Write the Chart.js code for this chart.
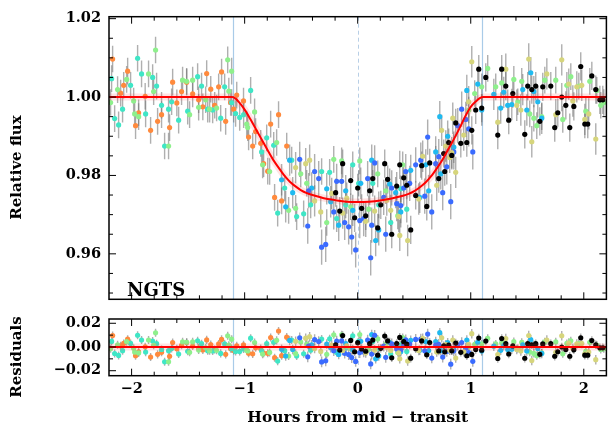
<!DOCTYPE html>
<html><head><meta charset="utf-8">
<script src="https://cdn.jsdelivr.net/npm/chart.js@4.4.1/dist/chart.umd.min.js"></script>
<style>
html,body{margin:0;padding:0;background:#fff;}
#wrap{position:relative;width:609px;height:432px;overflow:hidden;background:#fff;}
#topBox{position:absolute;left:0;top:0;width:609px;height:316px;}
#botBox{position:absolute;left:0;top:300px;width:609px;height:132px;}
</style></head><body>
<div id="wrap">
<div id="topBox"><canvas id="topChart" width="609" height="316"></canvas></div>
<div id="botBox"><canvas id="botChart" width="609" height="132"></canvas></div>
</div>
<script>
// ---------------- DATA (hours from mid-transit, relative flux, residuals) ----------------
const orangeHours = [-2.168,-2.097,-2.070,-2.035,-1.965,-1.938,-1.880,-1.832,-1.770,-1.735,-1.664,-1.637,-1.600,-1.558,-1.513,-1.460,-1.407,-1.370,-1.336,-1.300,-1.265,-1.230,-1.204,-1.168,-1.124,-1.097,-1.070,-1.010,-0.965,-0.929,-0.903,-0.858,-0.832,-0.796,-0.770,-0.735,-0.700,-0.673,-0.628];
const orangeFlux = [1.0097,1.0010,1.0030,1.0066,0.9927,0.9960,1.0002,0.9915,0.9938,0.9955,0.9922,1.0038,0.9985,1.0014,1.0038,1.0008,0.9993,0.9975,1.0060,1.0020,0.9979,1.0026,1.0064,0.9938,0.9986,0.9969,1.0005,0.9990,0.9898,0.9875,0.9912,0.9882,0.9830,0.9811,0.9931,0.9744,0.9955,0.9735,0.9875];
const orangeResid = [0.0097,0.0010,0.0030,0.0066,-0.0073,-0.0040,0.0002,-0.0085,-0.0062,-0.0045,-0.0078,0.0038,-0.0015,0.0014,0.0038,0.0008,-0.0007,-0.0025,0.0060,0.0020,-0.0021,0.0026,0.0064,-0.0062,-0.0014,-0.0030,0.0010,0.0018,-0.0053,-0.0058,-0.0007,-0.0014,-0.0052,-0.0053,0.0080,-0.0090,0.0135,-0.0073,0.0083];
const orangeErr = 0.0034;

const turquoiseHours = [-2.177,-2.150,-2.115,-2.080,-2.009,-1.947,-1.912,-1.876,-1.814,-1.779,-1.735,-1.708,-1.673,-1.646,-1.584,-1.504,-1.416,-1.381,-1.327,-1.283,-1.212,-1.177,-1.115,-1.080,-1.044,-1.009,-0.947,-0.850,-0.805,-0.743,-0.708,-0.646,-0.584,-0.540,-0.478,-0.416,-0.319,-0.248,-0.186,-0.106,-0.044,0.009,0.133,0.186,0.292,0.381,0.434];
const turquoiseFlux = [1.0047,0.9945,0.9929,0.9969,1.0030,1.0099,1.0059,0.9957,1.0050,1.0028,0.9979,0.9875,0.9969,0.9988,0.9941,0.9964,1.0052,1.0028,0.9969,0.9967,0.9946,1.0026,0.9986,0.9958,0.9948,0.9955,1.0017,0.9860,0.9896,0.9877,0.9704,0.9768,0.9839,0.9695,0.9702,0.9725,0.9810,0.9808,0.9690,0.9725,0.9827,0.9780,0.9780,0.9725,0.9680,0.9766,0.9714];
const turquoiseResid = [0.0047,-0.0055,-0.0071,-0.0031,0.0030,0.0099,0.0059,-0.0043,0.0050,0.0028,-0.0021,-0.0125,-0.0031,-0.0012,-0.0059,-0.0036,0.0052,0.0028,-0.0031,-0.0033,-0.0054,0.0026,-0.0014,-0.0038,-0.0037,-0.0016,0.0074,-0.0032,0.0028,0.0039,-0.0119,-0.0031,0.0059,-0.0075,-0.0057,-0.0027,0.0067,0.0069,-0.0046,-0.0008,0.0095,0.0048,0.0046,-0.0011,-0.0060,0.0019,-0.0037];
const turquoiseErr = 0.0034;

const greenHours = [-2.186,-2.124,-2.044,-1.982,-1.973,-1.938,-1.850,-1.805,-1.788,-1.673,-1.549,-1.513,-1.487,-1.460,-1.407,-1.345,-1.310,-1.248,-1.150,-1.140,-1.115,-0.982,-0.973,-0.912,-0.841,-0.779,-0.717,-0.611,-0.549,-0.504,-0.451,-0.274,-0.212,-0.142,-0.062,0.018,0.097,0.177,0.248,0.354,0.398,0.982,1.035,1.097,1.150,1.221,1.274,1.381,1.416,1.451,1.522,1.558,1.584,1.628,1.655,1.752,1.814,1.850,1.885,1.956,2.018,2.053,2.115,2.150,2.177];
const greenFlux = [0.9986,1.0019,1.0045,0.9990,0.9957,0.9950,1.0059,1.0014,1.0120,0.9875,1.0043,1.0040,0.9955,1.0043,0.9974,0.9993,0.9969,0.9972,1.0095,1.0015,1.0066,0.9931,0.9922,0.9962,0.9827,0.9810,0.9884,0.9711,0.9716,0.9804,0.9780,0.9680,0.9841,0.9837,0.9720,0.9837,0.9714,0.9804,0.9761,0.9697,0.9827,0.9967,1.0009,1.0026,1.0073,1.0026,1.0036,1.0045,0.9988,1.0040,0.9957,0.9946,0.9927,0.9950,1.0043,1.0043,0.9943,1.0030,1.0052,1.0028,0.9964,1.0040,1.0017,0.9979,0.9986];
const greenResid = [-0.0014,0.0019,0.0045,-0.0010,-0.0043,-0.0050,0.0059,0.0014,0.0120,-0.0125,0.0043,0.0040,-0.0045,0.0043,-0.0026,-0.0007,-0.0031,-0.0028,0.0095,0.0015,0.0066,-0.0028,-0.0033,0.0038,-0.0060,-0.0046,0.0056,-0.0076,-0.0056,0.0042,0.0025,-0.0061,0.0103,0.0103,-0.0012,0.0105,-0.0019,0.0068,0.0023,-0.0047,0.0079,0.0001,0.0023,0.0026,0.0073,0.0026,0.0036,0.0045,-0.0012,0.0040,-0.0043,-0.0054,-0.0073,-0.0050,0.0043,0.0043,-0.0057,0.0030,0.0052,0.0028,-0.0036,0.0040,0.0017,-0.0021,-0.0014];
const greenErr = 0.0034;

const cyanHours = [-0.673,-0.637,-0.602,-0.575,-0.407,-0.274,-0.239,-0.168,-0.106,-0.044,0.027,0.124,0.159,0.186,0.283,0.336,0.381,0.469,0.549,0.602,0.628,0.690,0.726,0.735,0.796,0.850,0.965,1.062,1.097,1.204,1.265,1.292,1.327,1.363,1.460,1.496,1.531,1.558,1.593,1.628];
const cyanFlux = [0.9789,0.9720,0.9839,0.9756,0.9768,0.9766,0.9733,0.9673,0.9761,0.9711,0.9780,0.9839,0.9634,0.9661,0.9778,0.9756,0.9707,0.9813,0.9744,0.9827,0.9761,0.9860,0.9950,0.9804,0.9900,0.9872,1.0017,1.0033,0.9967,1.0007,0.9972,1.0012,0.9979,0.9981,1.0019,0.9967,1.0062,1.0014,0.9988,0.9946];
const cyanResid = [-0.0019,-0.0076,0.0055,-0.0021,0.0018,0.0025,-0.0006,-0.0063,0.0028,-0.0021,0.0048,0.0105,-0.0100,-0.0075,0.0038,0.0012,-0.0040,0.0057,-0.0027,0.0045,-0.0030,0.0046,0.0121,-0.0030,0.0036,-0.0020,0.0059,0.0040,-0.0033,0.0007,-0.0028,0.0012,-0.0021,-0.0019,0.0019,-0.0033,0.0062,0.0014,-0.0012,-0.0054];
const cyanErr = 0.0040;

const blueHours = [-0.513,-0.442,-0.434,-0.381,-0.345,-0.319,-0.283,-0.212,-0.186,-0.142,-0.115,-0.080,-0.053,-0.018,0.018,0.053,0.088,0.115,0.124,0.150,0.230,0.248,0.301,0.345,0.381,0.407,0.425,0.460,0.513,0.558,0.593,0.619,0.655,0.690,0.717,0.752,0.788,0.823,0.850,0.885,0.920,0.956,0.982,1.018];
const blueFlux = [0.9841,0.9671,0.9761,0.9810,0.9792,0.9617,0.9624,0.9707,0.9785,0.9785,0.9680,0.9669,0.9643,0.9610,0.9685,0.9690,0.9792,0.9590,0.9673,0.9832,0.9744,0.9650,0.9768,0.9728,0.9723,0.9768,0.9810,0.9780,0.9827,0.9839,0.9747,0.9898,0.9707,0.9830,0.9848,0.9756,0.9822,0.9733,0.9860,0.9927,0.9969,0.9943,0.9919,0.9860];
const blueResid = [0.0077,-0.0083,0.0008,0.0062,0.0046,-0.0126,-0.0117,-0.0031,0.0049,0.0051,-0.0053,-0.0064,-0.0089,-0.0122,-0.0047,-0.0042,0.0059,-0.0143,-0.0060,0.0098,0.0007,-0.0087,0.0027,-0.0016,-0.0024,0.0019,0.0060,0.0025,0.0064,0.0067,-0.0032,0.0109,-0.0093,0.0016,0.0023,-0.0085,-0.0038,-0.0145,-0.0032,0.0015,0.0037,-0.0011,-0.0047,-0.0121];
const blueErr = 0.0045;

const khakiHours = [-0.549,-0.460,-0.425,-0.381,-0.327,-0.230,-0.133,-0.097,0.071,0.150,0.257,0.292,0.363,0.372,0.442,0.540,0.575,0.699,0.743,0.779,0.814,0.832,0.841,0.867,0.938,0.982,1.009,1.239,1.310,1.407,1.443,1.513,1.540,1.673,1.752,1.805,1.867,1.903,1.938,1.982,2.009,2.044,2.106];
const khakiFlux = [0.9820,0.9830,0.9839,0.9735,0.9707,0.9754,0.9704,0.9742,0.9683,0.9709,0.9737,0.9711,0.9695,0.9647,0.9634,0.9740,0.9849,0.9775,0.9915,0.9875,0.9846,0.9858,0.9946,0.9808,0.9903,0.9988,1.0090,0.9936,1.0071,0.9979,0.9967,1.0097,0.9886,1.0059,0.9955,1.0095,1.0033,0.9990,1.0026,1.0030,0.9943,0.9957,0.9893];
const khakiResid = [0.0048,0.0074,0.0087,-0.0013,-0.0037,0.0016,-0.0030,0.0009,-0.0050,-0.0026,-0.0002,-0.0029,-0.0050,-0.0099,-0.0118,-0.0029,0.0073,-0.0043,0.0078,0.0020,-0.0027,-0.0025,0.0059,-0.0093,-0.0040,0.0022,0.0112,-0.0064,0.0071,-0.0021,-0.0033,0.0097,-0.0114,0.0059,-0.0045,0.0095,0.0033,-0.0010,0.0026,0.0030,-0.0057,-0.0043,-0.0107];
const khakiErr = 0.0040;

const blackHours = [-0.195,-0.159,-0.133,-0.062,-0.027,0.000,0.035,0.071,0.106,0.133,0.177,0.204,0.239,0.265,0.301,0.345,0.372,0.407,0.434,0.469,0.513,0.566,0.611,0.637,0.717,0.761,0.770,0.805,0.832,0.867,0.912,0.965,1.009,1.044,1.071,1.097,1.133,1.239,1.274,1.310,1.336,1.372,1.478,1.504,1.540,1.575,1.611,1.637,1.708,1.743,1.770,1.805,1.841,1.876,1.912,1.973,2.009,2.035,2.071,2.106,2.142,2.168];
const blackFlux = [0.9756,0.9709,0.9830,0.9787,0.9692,0.9768,0.9716,0.9697,0.9761,0.9792,0.9666,0.9725,0.9830,0.9790,0.9650,0.9773,0.9827,0.9794,0.9775,0.9661,0.9749,0.9825,0.9721,0.9832,0.9792,0.9856,0.9810,0.9884,0.9851,0.9934,0.9882,0.9884,0.9915,0.9967,1.0071,0.9972,1.0050,0.9903,1.0071,1.0028,0.9941,1.0009,0.9905,1.0028,1.0019,1.0028,0.9938,1.0026,1.0028,0.9922,0.9960,1.0000,0.9979,0.9922,0.9976,1.0078,0.9931,0.9931,1.0054,1.0019,0.9993,0.9993];
const blackResid = [0.0019,-0.0026,0.0096,0.0055,-0.0040,0.0036,-0.0016,-0.0036,0.0028,0.0058,-0.0069,-0.0011,0.0092,0.0051,-0.0091,0.0029,0.0081,0.0045,0.0024,-0.0094,-0.0014,0.0051,-0.0066,0.0038,-0.0033,0.0010,-0.0041,0.0015,-0.0032,0.0033,-0.0045,-0.0074,-0.0063,-0.0021,0.0075,-0.0027,0.0050,-0.0097,0.0071,0.0028,-0.0059,0.0009,-0.0095,0.0028,0.0019,0.0028,-0.0062,0.0026,0.0028,-0.0078,-0.0040,0.0000,-0.0021,-0.0078,-0.0024,0.0078,-0.0069,-0.0069,0.0054,0.0019,-0.0007,-0.0007];
const blackErr = 0.0036;

// transit model
const modelHours = [-2.2,-1.11,-1.08,-1.05,-1.00,-0.95,-0.90,-0.85,-0.80,-0.75,-0.70,-0.65,-0.60,-0.55,-0.50,-0.45,-0.40,-0.30,-0.20,-0.10,0.00,0.10,0.20,0.30,0.40,0.45,0.50,0.55,0.60,0.65,0.70,0.75,0.80,0.85,0.90,0.95,1.00,1.05,1.08,1.11,2.2];
const modelFlux = [1.0,1.0,0.9996,0.9987,0.9968,0.9944,0.9918,0.9892,0.9866,0.9841,0.9820,0.9800,0.9784,0.9772,0.9762,0.9755,0.9750,0.9742,0.9737,0.9733,0.9732,0.9733,0.9736,0.9741,0.9748,0.9753,0.9760,0.9770,0.9782,0.9798,0.9818,0.9840,0.9866,0.9892,0.9920,0.9950,0.9975,0.9990,0.9997,1.0,1.0];
const residModelHours = [-2.2, 2.2];
const residModelValues = [0, 0];

// reference markers (transit contact times and mid-transit)
const contactHours = [-1.1, 1.1];
const midTransitHours = [0];

// axes and ticks
const hoursRange = [-2.2, 2.2];
const fluxRange = [0.9484, 1.0205];
const residRange = [-0.0242, 0.0236];
const xMajorTicks = [-2, -1, 0, 1, 2];
const xTickLabels = ['\u22122', '\u22121', '0', '1', '2'];
const xMinorTicks = [-1.8,-1.6,-1.4,-1.2,-0.8,-0.6,-0.4,-0.2,0.2,0.4,0.6,0.8,1.2,1.4,1.6,1.8];
const fluxMajorTicks = [0.96, 0.98, 1.00, 1.02];
const fluxTickLabels = ['0.96', '0.98', '1.00', '1.02'];
const fluxMinorTicks = [0.95,0.955,0.965,0.97,0.975,0.985,0.99,0.995,1.005,1.01,1.015];
const residMajorTicks = [-0.02, 0, 0.02];
const residTickLabels = ['\u22120.02', '0.00', '0.02'];
const residMinorTicks = [-0.01, 0.01];

// ---------------- STYLE ----------------
const FONT = 'DejaVu Serif';
const seriesDefs = [
  {hours: orangeHours,    flux: orangeFlux,    resid: orangeResid,    err: orangeErr,    color: '#ff8a3d', order: 8},
  {hours: turquoiseHours, flux: turquoiseFlux, resid: turquoiseResid, err: turquoiseErr, color: '#3fe6c6', order: 7},
  {hours: greenHours,     flux: greenFlux,     resid: greenResid,     err: greenErr,     color: '#8ef08c', order: 6},
  {hours: cyanHours,      flux: cyanFlux,      resid: cyanResid,      err: cyanErr,      color: '#1fbaf0', order: 5},
  {hours: blueHours,      flux: blueFlux,      resid: blueResid,      err: blueErr,      color: '#3a6bff', order: 4},
  {hours: khakiHours,     flux: khakiFlux,     resid: khakiResid,     err: khakiErr,     color: '#d6d57c', order: 3},
  {hours: blackHours,     flux: blackFlux,     resid: blackResid,     err: blackErr,     color: '#000000', order: 2}
];

function pts(xs, ys) { return xs.map((x, i) => ({x: x, y: ys[i]})); }

function buildDatasets(which, mx, my) {
  const ds = seriesDefs.map(s => ({
    data: pts(s.hours, which === 'flux' ? s.flux : s.resid),
    errs: s.err,
    backgroundColor: s.color,
    borderWidth: 0,
    pointRadius: 2.6,
    pointHoverRadius: 2.6,
    order: s.order
  }));
  ds.push({data: pts(mx, my), showLine: true, borderColor: 'rgba(255,80,80,0.16)', borderWidth: 7, pointRadius: 0, cubicInterpolationMode: 'monotone', order: 1});
  ds.push({data: pts(mx, my), showLine: true, borderColor: '#ff0000', borderWidth: 2, pointRadius: 0, cubicInterpolationMode: 'monotone', order: 0});
  return ds;
}

const markerPlugin = {
  id: 'markers',
  beforeDatasetsDraw(chart) {
    const {ctx, chartArea: a, scales: {x, y}} = chart;
    ctx.save();
    ctx.beginPath(); ctx.rect(a.left, a.top, a.right - a.left, a.bottom - a.top); ctx.clip();
    ctx.strokeStyle = '#a9cbe8'; ctx.lineWidth = 1.2;
    contactHours.forEach(h => { const px = Math.round(x.getPixelForValue(h)) + 0.5; ctx.beginPath(); ctx.moveTo(px, a.top); ctx.lineTo(px, a.bottom); ctx.stroke(); });
    ctx.strokeStyle = '#b8cfe6'; ctx.setLineDash([4, 3]); ctx.lineWidth = 1;
    midTransitHours.forEach(h => { const px = Math.round(x.getPixelForValue(h)) + 0.5; ctx.beginPath(); ctx.moveTo(px, a.top); ctx.lineTo(px, a.bottom); ctx.stroke(); });
    ctx.setLineDash([]);
    // error bars
    ctx.strokeStyle = 'rgba(110,110,110,0.55)'; ctx.lineWidth = 1.4;
    chart.data.datasets.forEach(ds => {
      if (!ds.errs) return;
      ds.data.forEach(p => {
        const px = x.getPixelForValue(p.x);
        ctx.beginPath();
        ctx.moveTo(px, y.getPixelForValue(p.y + ds.errs));
        ctx.lineTo(px, y.getPixelForValue(p.y - ds.errs));
        ctx.stroke();
      });
    });
    ctx.restore();
  }
};

function framePlugin(yMaj, yMin) {
  return {
    id: 'frame',
    afterDatasetsDraw(chart) {
      const {ctx, chartArea: a, scales: {x, y}} = chart;
      ctx.save();
      ctx.strokeStyle = '#000'; ctx.lineWidth = 1;
      const vt = (v, len) => { const px = x.getPixelForValue(v);
        ctx.beginPath(); ctx.moveTo(px, a.bottom); ctx.lineTo(px, a.bottom - len);
        ctx.moveTo(px, a.top); ctx.lineTo(px, a.top + len); ctx.stroke(); };
      const ht = (v, len) => { const py = y.getPixelForValue(v);
        ctx.beginPath(); ctx.moveTo(a.left, py); ctx.lineTo(a.left + len, py);
        ctx.moveTo(a.right, py); ctx.lineTo(a.right - len, py); ctx.stroke(); };
      xMajorTicks.forEach(v => vt(v, 7));
      xMinorTicks.forEach(v => vt(v, 4));
      yMaj.forEach(v => ht(v, 7));
      yMin.forEach(v => ht(v, 4));
      ctx.lineWidth = 1.5;
      ctx.strokeRect(a.left, a.top, a.right - a.left, a.bottom - a.top);
      ctx.restore();
    }
  };
}

function textPlugin(items) {
  return {
    id: 'texts',
    afterDraw(chart) {
      const ctx = chart.ctx;
      ctx.save();
      ctx.fillStyle = '#000';
      items.forEach(t => {
        ctx.save();
        ctx.font = 'bold ' + t.size + 'px "' + FONT + '"';
        ctx.translate(t.x, t.y);
        if (t.rot) ctx.rotate(-Math.PI / 2);
        ctx.textAlign = t.align; ctx.textBaseline = 'middle';
        ctx.fillText(t.text, 0, 0);
        ctx.restore();
      });
      ctx.restore();
    }
  };
}

const tickFont = {family: FONT, size: 14.5, weight: 'bold'};

function yScale(range, majors, labels) {
  return {
    type: 'linear', min: range[0], max: range[1],
    grid: {display: false, drawTicks: false}, border: {display: false},
    afterBuildTicks: s => { s.ticks = majors.map(v => ({value: v})); },
    afterFit: s => { s.width = 109; },
    ticks: {font: tickFont, color: '#000', padding: 8, callback: (v, i) => labels[i]}
  };
}

Chart.defaults.animation = false;

new Chart(document.getElementById('topChart'), {
  type: 'scatter',
  data: {datasets: buildDatasets('flux', modelHours, modelFlux)},
  options: {
    responsive: false, animation: false, devicePixelRatio: 1,
    layout: {padding: {top: 8, right: 1, bottom: 3, left: 0}},
    plugins: {legend: {display: false}, tooltip: {enabled: false}},
    scales: {
      x: {type: 'linear', display: false, min: hoursRange[0], max: hoursRange[1]},
      y: yScale(fluxRange, fluxMajorTicks, fluxTickLabels)
    }
  },
  plugins: [markerPlugin, framePlugin(fluxMajorTicks, fluxMinorTicks),
    textPlugin([
      {text: 'Relative flux', x: 17, y: 167.5, size: 15, rot: true, align: 'center'},
      {text: 'NGTS', x: 127, y: 291, size: 18, rot: false, align: 'left'}
    ])]
});

new Chart(document.getElementById('botChart'), {
  type: 'scatter',
  data: {datasets: buildDatasets('resid', residModelHours, residModelValues)},
  options: {
    responsive: false, animation: false, devicePixelRatio: 1,
    layout: {padding: {top: 19, right: 1, bottom: 0, left: 0}},
    plugins: {legend: {display: false}, tooltip: {enabled: false}},
    scales: {
      x: {
        type: 'linear', min: hoursRange[0], max: hoursRange[1],
        grid: {display: false, drawTicks: false}, border: {display: false},
        afterBuildTicks: s => { s.ticks = xMajorTicks.map(v => ({value: v})); },
        afterFit: s => { s.height = 56.3; },
        ticks: {font: tickFont, color: '#000', padding: 5, maxRotation: 0, autoSkip: false, callback: (v, i) => xTickLabels[i]},
        title: {display: true, text: 'Hours from mid \u2212 transit', color: '#000', font: {family: FONT, size: 15.5, weight: 'bold'}, padding: {top: 0, bottom: 5}}
      },
      y: yScale(residRange, residMajorTicks, residTickLabels)
    }
  },
  plugins: [markerPlugin, framePlugin(residMajorTicks, residMinorTicks),
    textPlugin([
      {text: 'Residuals', x: 17, y: 57, size: 15, rot: true, align: 'center'}
    ])]
});
</script>
</body></html>
